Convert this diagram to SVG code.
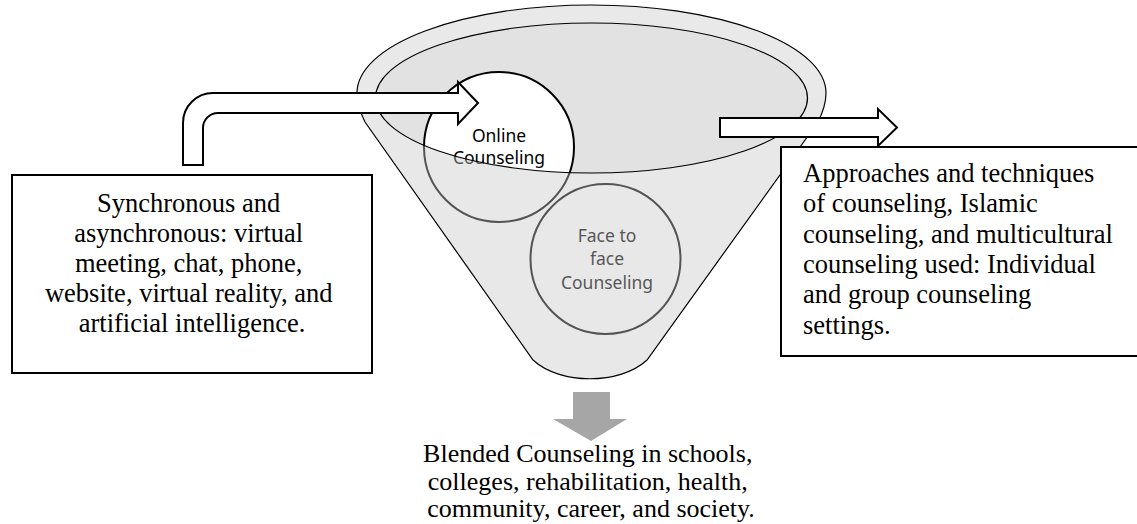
<svg xmlns="http://www.w3.org/2000/svg" width="1137" height="524" viewBox="0 0 1137 524">
<style>
.serif{font-family:"Liberation Serif","Times New Roman",serif;font-size:26.5px;fill:#000}
.bottom{font-size:26px}
.sans{font-family:"Noto Sans","Open Sans",sans-serif;font-size:17.5px;fill:#000;text-anchor:middle}
.box{fill:#fff;stroke:#000;stroke-width:2}
.arrow{fill:#fff;stroke:#000;stroke-width:2;stroke-linejoin:miter}
.line{fill:none;stroke:#000;stroke-width:1.2}
.circ{fill:#fff;stroke:#000;stroke-width:2}
</style>
<rect width="1137" height="524" fill="#fff"/>
<g id="funnel">
  <path d="M357,93 A234.5,88 0 0 1 826,93 L807.5,98 A216,75 0 0 1 375.5,98 Z" fill="#e9e9e9"/>
  <ellipse cx="591.5" cy="98" rx="216" ry="75" fill="#e2e2e2"/>
</g>
<g id="online">
  <circle cx="499" cy="147" r="75" class="circ"/>
  <text class="sans" x="499" y="142">Online</text>
  <text class="sans" x="499" y="164">Counseling</text>
</g>
<g id="face">
  <circle cx="605.5" cy="259" r="75" class="circ"/>
  <text class="sans" x="607" y="242">Face to</text>
  <text class="sans" x="607" y="265">face</text>
  <text class="sans" x="607" y="289">Counseling</text>
</g>
<g id="funnel-body">
  <path d="M357,93 C357,100 360,112 365,122 L533,360 C560,385 620,385 647,360 L818,122 C823,112 826,100 826,93 L807.5,98 A216,75 0 0 1 375.5,98 Z" fill="rgb(200,200,200)" fill-opacity="0.42"/>
  <path class="line" d="M365,122 C360,112 357,100 357,93 A234.5,88 0 0 1 826,93 C826,100 823,112 818,122 L647,360 C620,385 560,385 533,360 Z"/>
  <ellipse class="line" cx="591.5" cy="98" rx="216" ry="75"/>
</g>
<g id="connectors">
  <path class="arrow" d="M183,165 L183,123 A30,30 0 0 1 213,93 L458,93 L458,82 L478,103 L458,124 L458,113 L218,113 A15,15 0 0 0 203,128 L203,165 Z"/>
  <path class="arrow" d="M720,118 L878,118 L878,109 L897,127.5 L878,146 L878,137 L720,137 Z"/>
  <path d="M573,392 L610,392 L610,419 L627,419 L591,441 L553,419 L573,419 Z" fill="#a6a6a6"/>
</g>
<g id="left-box">
  <rect class="box" x="12" y="175" width="360" height="198"/>
  <text class="serif" text-anchor="middle">
    <tspan x="192" y="212">Synchronous and</tspan>
    <tspan x="192" y="242">asynchronous: virtual</tspan>
    <tspan x="192" y="272">meeting, chat, phone,</tspan>
    <tspan x="192" y="302">website, virtual reality, and</tspan>
    <tspan x="192" y="332">artificial intelligence.</tspan>
  </text>
</g>
<g id="right-box">
  <rect class="box" x="781" y="147" width="370" height="209"/>
  <text class="serif">
    <tspan x="803" y="182">Approaches and techniques</tspan>
    <tspan x="803" y="212">of counseling, Islamic</tspan>
    <tspan x="803" y="243">counseling, and multicultural</tspan>
    <tspan x="803" y="273">counseling used: Individual</tspan>
    <tspan x="803" y="303">and group counseling</tspan>
    <tspan x="803" y="334">settings.</tspan>
  </text>
</g>
<g id="bottom-text">
  <text class="serif bottom" text-anchor="middle">
    <tspan x="591" y="462">Blended Counseling in schools,</tspan>
    <tspan x="591" y="489.5">colleges, rehabilitation, health,</tspan>
    <tspan x="591" y="517">community, career, and society.</tspan>
  </text>
</g>
</svg>
